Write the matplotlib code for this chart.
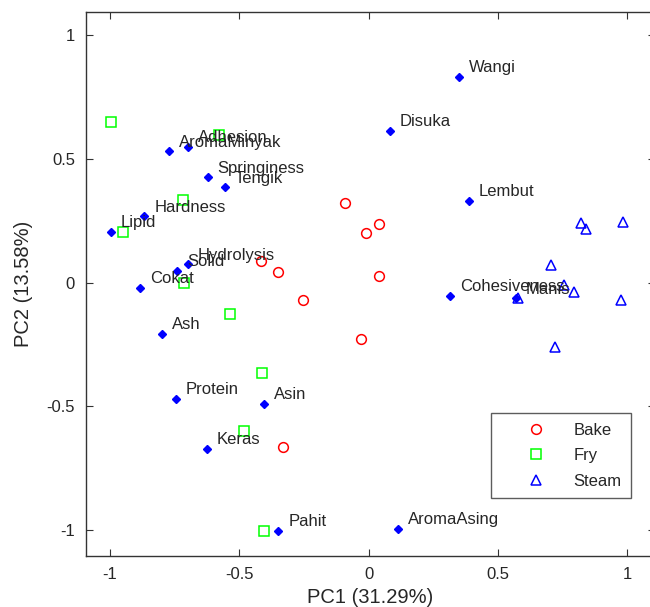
import matplotlib
matplotlib.use('Agg')
import matplotlib.pyplot as plt

plt.rcParams['font.family'] = ['Liberation Sans', 'DejaVu Sans']

# sample scores
bake_x = [-0.093, 0.039, -0.009, 0.039, -0.255, -0.028, -0.418, -0.350, -0.333]
bake_y = [0.322, 0.237, 0.199, 0.028, -0.069, -0.227, 0.085, 0.041, -0.665]

fry_x = [-0.997, -0.578, -0.717, -0.951, -0.714, -0.537, -0.412, -0.483, -0.405]
fry_y = [0.649, 0.595, 0.335, 0.205, 0.0, -0.126, -0.365, -0.601, -1.002]

steam_x = [0.821, 0.841, 0.985, 0.703, 0.576, 0.757, 0.792, 0.977, 0.719]
steam_y = [0.240, 0.218, 0.246, 0.069, -0.063, -0.012, -0.038, -0.069, -0.259]

# variable loadings
var_names = ['Wangi', 'Disuka', 'Lembut', 'Cohesiveness', 'Manis', 'AromaMinyak',
             'Adhesion', 'Springiness', 'Tengik', 'Hardness', 'Lipid', 'Hydrolysis',
             'Solid', 'Cokat', 'Ash', 'Protein', 'Asin', 'Keras', 'Pahit', 'AromaAsing']
var_x = [0.349, 0.081, 0.387, 0.315, 0.568, -0.771, -0.700, -0.623, -0.556, -0.868,
         -0.997, -0.699, -0.740, -0.884, -0.800, -0.745, -0.405, -0.627, -0.350, 0.113]
var_y = [0.832, 0.614, 0.331, -0.053, -0.063, 0.531, 0.549, 0.425, 0.385, 0.268,
         0.206, 0.073, 0.048, -0.021, -0.207, -0.470, -0.490, -0.672, -1.002, -0.995]

ticks = [-1, -0.5, 0, 0.5, 1]
tick_labels = ['-1', '-0.5', '0', '0.5', '1']

W, H = 650, 607
fig = plt.figure(figsize=(W / 100, H / 100), dpi=100)
ax = fig.add_axes([86 / W, (H - 556) / H, (655 - 86) / W, (556 - 12) / H])

txt_col = '#262626'

ax.plot(var_x, var_y, 'D', color='blue', markersize=4.5, linestyle='none')
for name, x, y in zip(var_names, var_x, var_y):
    ax.annotate(name, (x, y), xytext=(10, 9), textcoords='offset pixels',
                ha='left', va='center', fontsize=12, color=txt_col)

ax.plot(bake_x, bake_y, 'o', mfc='none', mec='red', markersize=7, mew=1.1,
        linestyle='none', label='Bake')
ax.plot(fry_x, fry_y, 's', mfc='none', mec='lime', markersize=7, mew=1.1,
        linestyle='none', label='Fry')
ax.plot(steam_x, steam_y, '^', mfc='none', mec='blue', markersize=7, mew=1.1,
        linestyle='none', label='Steam')

ax.set_xlim(-1.093, 1.107)
ax.set_ylim(-1.105, 1.093)
ax.set_xticks(ticks)
ax.set_xticklabels(tick_labels)
ax.set_yticks(ticks)
ax.set_yticklabels(tick_labels)
ax.tick_params(direction='in', length=5, top=True, right=True, labelsize=12,
               colors='#333333', labelcolor=txt_col, pad=8)
for s in ax.spines.values():
    s.set_color('#333333')
    s.set_linewidth(1.0)

ax.set_xlabel('PC1 (31.29%)', fontsize=14.5, color=txt_col, labelpad=4)
ax.set_ylabel('PC2 (13.58%)', fontsize=14.5, color=txt_col, labelpad=10)

leg = ax.legend(loc='lower right', bbox_to_anchor=(0.958, 0.106), borderaxespad=0,
                fontsize=12, frameon=True, fancybox=False, handlelength=4.25,
                handletextpad=0.1, borderpad=0.57, labelspacing=0.64)
leg.get_frame().set_edgecolor('#333333')
leg.get_frame().set_linewidth(1.0)
for t in leg.get_texts():
    t.set_color(txt_col)

fig.savefig('out.png', dpi=100)
